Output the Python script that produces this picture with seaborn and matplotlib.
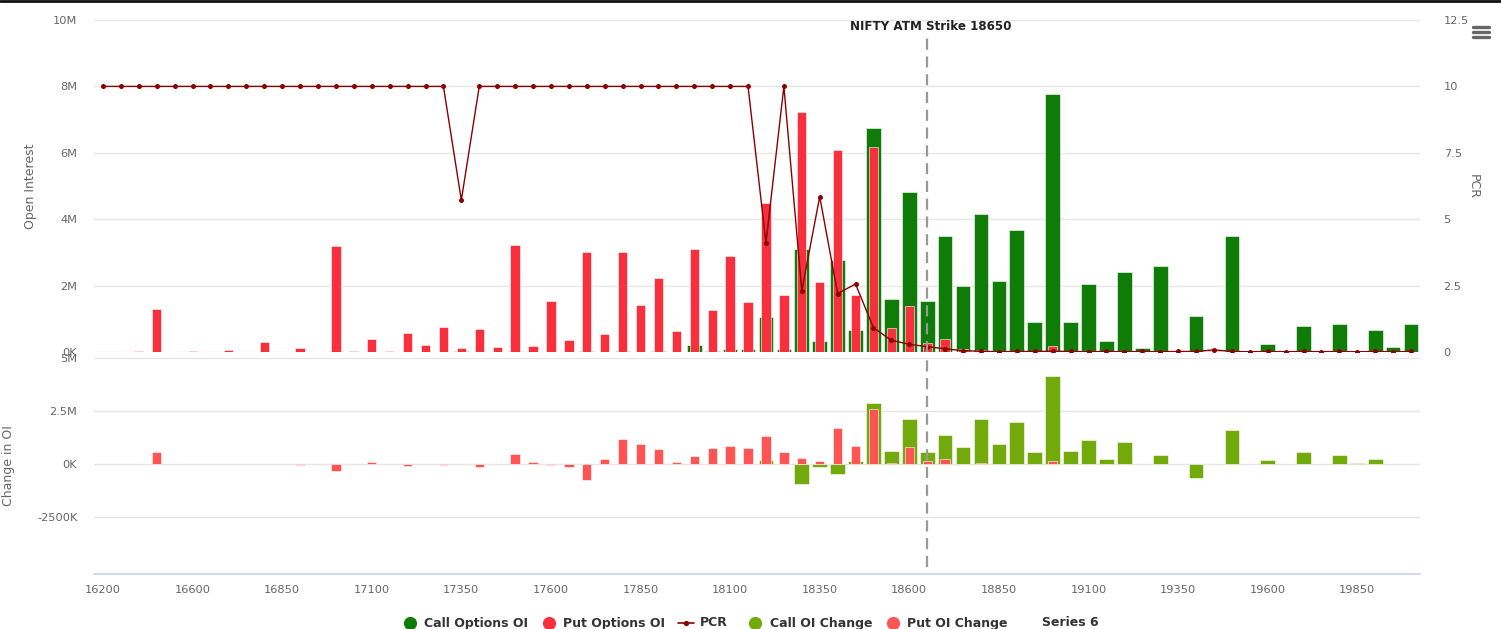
import numpy as np
import pandas as pd
import matplotlib
matplotlib.use("Agg")
import matplotlib.pyplot as plt
from matplotlib.lines import Line2D
import seaborn as sns

# ---------------- data ----------------
strikes = [16200, 16300, 16400, 16500, 16550] + [16600 + 50 * k for k in range(69)]
strike_labels = [str(s) for s in strikes]

# Open interest, millions
call_oi = [0, 0, 0, 0, 0, 0, 0, 0, 0, 0,
           0, 0, 0, 0.02, 0, 0, 0, 0, 0, 0,
           0.023, 0, 0, 0.03, 0, 0, 0, 0.02, 0, 0.04,
           0, 0.02, 0, 0.21, 0.02, 0.08, 0.08, 1.05, 0.10, 3.10,
           0.34, 2.78, 0.65, 6.76, 1.59, 4.81, 1.53, 3.50, 2.00, 4.15,
           2.15, 3.68, 0.89, 7.76, 0.89, 2.04, 0.34, 2.40, 0.11, 2.59,
           0.03, 1.09, 0.02, 3.50, 0.01, 0.25, 0, 0.77, 0, 0.84,
           0.02, 0.65, 0.15, 0.84]
put_oi = [0, 0, 0.03, 1.30, 0, 0.03, 0, 0.05, 0, 0.31,
          0, 0.13, 0, 3.20, 0.03, 0.38, 0.03, 0.57, 0.22, 0.75,
          0.13, 0.69, 0.16, 3.22, 0.18, 1.54, 0.37, 3.00, 0.53, 3.00,
          1.42, 2.22, 0.62, 3.10, 1.27, 2.90, 1.50, 4.50, 1.72, 7.23,
          2.12, 6.09, 1.72, 6.16, 0.71, 1.38, 0.27, 0.39, 0.10, 0.05,
          0.02, 0.03, 0.01, 0.18, 0.01, 0.01, 0.01, 0.01, 0.01, 0.01,
          0.01, 0.01, 0.01, 0.01, 0.01, 0.01, 0.01, 0.01, 0.01, 0.01,
          0.01, 0.01, 0.01, 0.01]
pcr = [10, 10, 10, 10, 10, 10, 10, 10, 10, 10,
       10, 10, 10, 10, 10, 10, 10, 10, 10, 10,
       5.72, 10, 10, 10, 10, 10, 10, 10, 10, 10,
       10, 10, 10, 10, 10, 10, 10, 4.11, 10, 2.31,
       5.85, 2.20, 2.56, 0.91, 0.44, 0.29, 0.20, 0.12, 0.05, 0.03,
       0.01, 0.02, 0.02, 0.03, 0.02, 0.01, 0.02, 0.01, 0.02, 0.01,
       0.02, 0.02, 0.08, 0.02, 0.01, 0.02, 0.01, 0.02, 0.01, 0.02,
       0.01, 0.02, 0.01, 0.02]
# Change in OI, millions
call_chg = [0, 0, 0, 0, 0, 0, 0, 0, 0, 0,
            0, 0, 0, 0, 0, 0, 0, 0, 0, 0,
            0, 0, 0, 0, 0, 0, 0, 0, 0, 0,
            0, 0, 0, 0, 0, 0, 0, 0.17, 0, -0.96,
            -0.13, -0.46, 0.13, 2.89, 0.62, 2.10, 0.57, 1.36, 0.80, 2.14,
            0.96, 1.99, 0.57, 4.17, 0.62, 1.15, 0.22, 1.01, 0, 0.41,
            0, -0.65, 0, 1.59, 0, 0.17, 0, 0.57, 0, 0.41,
            0.03, 0.22, 0, 0]
put_chg = [0, 0, 0, 0.55, 0, 0, 0, 0, 0, 0,
           0, -0.03, 0, -0.32, 0, 0.08, 0, -0.09, 0, -0.07,
           0, -0.17, 0, 0.47, 0.08, -0.05, -0.17, -0.76, 0.24, 1.17,
           0.96, 0.71, 0.08, 0.38, 0.76, 0.85, 0.76, 1.31, 0.57, 0.27,
           0.13, 1.70, 0.85, 2.59, 0.06, 0.80, 0.13, 0.22, 0, 0.04,
           0, 0, 0, 0.13, 0, 0, 0, 0, 0, 0,
           0, 0, 0, 0, 0, 0, 0, 0, 0, 0,
           0, 0, 0, 0]
atm_strike = 18650
legend_names = ["Call Options OI", "Put Options OI", "PCR", "Call OI Change", "Put OI Change", "Series 6"]

# ---------------- style ----------------
C_CALL = "#107c08"
C_PUT = "#f82f3c"
C_PCR = "#8b0000"
C_CCHG = "#72aa0b"
C_PCHG = "#ff5454"
GRID = "#e6e6e6"
TXT = "#666666"

sns.set_theme(style="white")
plt.rcParams["font.family"] = ["DejaVu Sans"]

W, H = 1501, 629
fig = plt.figure(figsize=(W / 100, H / 100), dpi=100)
fig.patch.set_facecolor("white")


def box(l, t, r, b):
    return [l / W, 1 - b / H, (r - l) / W, (b - t) / H]


ax1 = fig.add_axes(box(94, 20, 1420, 352))
ax3 = fig.add_axes(box(94, 358, 1420, 574))

df = pd.DataFrame({
    "strike": strike_labels,
    "call_oi": np.array(call_oi) * 1e6,
    "put_oi": np.array(put_oi) * 1e6,
    "pcr": pcr,
    "call_chg": np.array(call_chg) * 1e6,
    "put_chg": np.array(put_chg) * 1e6,
    "pos": np.arange(len(strikes)),
})

bar_kw = dict(order=strike_labels, saturation=1, errorbar=None,
              edgecolor="white", linewidth=0.4)

# top panel bars
sns.barplot(data=df, x="strike", y="call_oi", color=C_CALL, width=0.82, ax=ax1, **bar_kw)
sns.barplot(data=df, x="strike", y="put_oi", color=C_PUT, width=0.52, ax=ax1, **bar_kw)
# bottom panel bars
sns.barplot(data=df, x="strike", y="call_chg", color=C_CCHG, width=0.82, ax=ax3, **bar_kw)
sns.barplot(data=df, x="strike", y="put_chg", color=C_PCHG, width=0.52, ax=ax3, **bar_kw)

for ax in (ax1, ax3):
    for p in ax.patches:
        if abs(p.get_height()) < 1:
            p.set_linewidth(0)
    ax.set_xlim(-0.5, len(strikes) - 0.5)
    for s in ax.spines.values():
        s.set_visible(False)
    ax.grid(axis="y", color=GRID, linewidth=1)
    ax.set_axisbelow(True)
    ax.tick_params(axis="both", length=0, labelsize=8.2, colors=TXT)
    ax.set_xlabel("")

# top axis
ax1.set_ylim(0, 10e6)
ax1.set_yticks([0, 2e6, 4e6, 6e6, 8e6, 10e6])
ax1.set_yticklabels(["0K", "2M", "4M", "6M", "8M", "10M"])
ax1.set_xticks([])
ax1.set_ylabel("Open Interest", color=TXT, fontsize=9)
ax1.yaxis.set_label_coords((37 - 94) / 1326, 0.5)
ax1.tick_params(axis="y", pad=12)

# PCR twin axis
ax2 = ax1.twinx()
sns.lineplot(data=df, x="pos", y="pcr", ax=ax2, color=C_PCR, linewidth=1,
             marker="o", markersize=3.6, markeredgewidth=0, zorder=5)
ax2.set_xlim(-0.5, len(strikes) - 0.5)
ax2.set_ylim(0, 12.5)
ax2.set_yticks([0, 2.5, 5, 7.5, 10, 12.5])
ax2.set_yticklabels(["0", "2.5", "5", "7.5", "10", "12.5"])
ax2.tick_params(axis="y", length=0, labelsize=8.2, colors=TXT, pad=17)
ax2.set_xticks([])
ax2.set_xlabel("")
for s in ax2.spines.values():
    s.set_visible(False)
ax2.set_ylabel("PCR", color=TXT, fontsize=9, rotation=270)
ax2.yaxis.set_label_coords(1 + (1480 - 1420) / 1326, 0.5)

atm_pos = strikes.index(atm_strike)
ax2.axvline(atm_pos, ymin=0, ymax=(352 - 35) / 332, color="#999999", linewidth=1.6,
            linestyle=(0, (5, 3)), zorder=6)
ax2.text(atm_pos + 0.2, 1 - (27 - 20) / 332, f"NIFTY ATM Strike {atm_strike}",
         transform=ax2.get_xaxis_transform(), ha="center", va="center",
         fontsize=8.6, fontweight="bold", color="#222222")

# bottom axis
ax3.set_ylim(-5.2e6, 5e6)
ax3.set_yticks([-2.5e6, 0, 2.5e6, 5e6])
ax3.set_yticklabels(["-2500K", "0K", "2.5M", "5M"])
ax3.set_xticks(np.arange(0, len(strikes), 5))
ax3.set_xticklabels(strike_labels[::5])
ax3.tick_params(axis="x", pad=8)
ax3.tick_params(axis="y", pad=12)
ax3.spines["bottom"].set_visible(True)
ax3.spines["bottom"].set_color("#ccd6eb")
ax3.set_ylabel("Change in OI", color=TXT, fontsize=9)
ax3.yaxis.set_label_coords((15 - 94) / 1326, 0.5)
ax3.axvline(atm_pos, ymin=(574 - 567) / 216, ymax=1, color="#999999", linewidth=1.6,
            linestyle=(0, (5, 3)), zorder=6)

# ---------------- legend (manual, bottom) ----------------
ly = 1 - 623 / H
items = [
    (legend_names[0], C_CALL, "o", 410, 424),
    (legend_names[1], C_PUT, "o", 549, 563),
    (legend_names[2], C_PCR, "line", 686, 700),
    (legend_names[3], C_CCHG, "o", 755, 770),
    (legend_names[4], C_PCHG, "o", 893, 907),
    (legend_names[5], None, None, None, 1042),
]
for name, col, kind, mx, tx in items:
    if kind == "o":
        fig.add_artist(Line2D([mx / W], [ly], marker="o", markersize=9.5, color=col,
                              markeredgewidth=0, linestyle="none"))
    elif kind == "line":
        fig.add_artist(Line2D([(mx - 8) / W, (mx + 8) / W], [ly, ly], color=col, linewidth=1.2))
        fig.add_artist(Line2D([mx / W], [ly], marker="o", markersize=3.8, color=col,
                              markeredgewidth=0, linestyle="none"))
    fig.text(tx / W, ly, name, ha="left", va="center", fontsize=9, color="#333333",
             fontweight="bold")

# top dark border line and menu icon
fig.add_artist(Line2D([0, 1], [1 - 1 / H, 1 - 1 / H], color="#111111", linewidth=2))
for yy in (27, 32, 37):
    fig.add_artist(Line2D([1473 / W, 1489 / W], [1 - yy / H, 1 - yy / H], color="#666666",
                          linewidth=2.4, solid_capstyle="round"))

fig.savefig("out.png", dpi=100, facecolor="white")
